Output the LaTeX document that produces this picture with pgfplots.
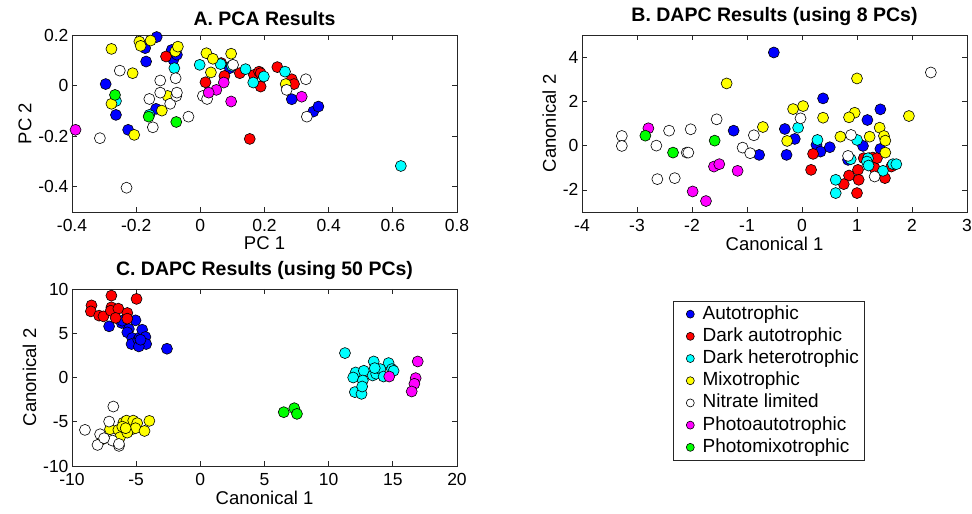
\documentclass[border=0pt]{standalone}
\usepackage{fontspec}
\setmainfont{Liberation Sans}
\usepackage{pgfplots}
\pgfplotsset{compat=1.18}

\definecolor{mgray}{rgb}{0.15,0.15,0.15}
\definecolor{cblue}{rgb}{0,0,1}
\definecolor{cred}{rgb}{1,0,0}
\definecolor{ccyan}{rgb}{0,1,1}
\definecolor{cyel}{rgb}{1,1,0}
\definecolor{cwhite}{rgb}{1,1,1}
\definecolor{cmag}{rgb}{1,0,1}
\definecolor{cgreen}{rgb}{0,1,0}
\pgfplotsset{
  dot/.style={only marks, mark=*, mark size=5.5pt,
    mark options={draw=black, line width=0.6pt, fill=#1}},
  panel/.style={scale only axis, width=385pt, height=177pt, anchor=south west,
    axis line style={mgray, line width=0.7pt},
    tick style={mgray, line width=0.7pt}, major tick length=5pt,
    tick align=inside,
    font=\fontsize{17.5}{21}\selectfont,
    title style={font=\bfseries\fontsize{19.5}{23}\selectfont},
    label style={font=\fontsize{18.5}{22}\selectfont},
    xticklabel style={yshift=-4pt},
    xlabel style={yshift=2pt},
    /pgf/number format/assume math mode=true,
    clip=false},
}

\begin{document}
\begin{tikzpicture}
\useasboundingbox (0,0) rectangle (972pt,514pt);

% A. PCA
\begin{axis}[panel, at={(72pt,302pt)},
  title={A. PCA Results}, xlabel={PC 1}, ylabel={PC 2},
  xmin=-0.4, xmax=0.8, ymin=-0.5, ymax=0.2,
  xtick={-0.4,-0.2,0,0.2,0.4,0.6,0.8}, ytick={-0.4,-0.2,0,0.2}]
\addplot[dot=cblue] coordinates {(-0.295,0.006) (-0.263,-0.116) (-0.225,-0.175) (-0.172,0.148) (-0.136,0.192) (-0.169,0.095) (-0.138,-0.092) (-0.084,0.102) (-0.089,0.141) (-0.073,0.122) (0.092,0.069) (0.285,-0.054) (0.352,-0.103) (0.368,-0.083)};
\addplot[dot=cred] coordinates {(-0.107,0.115) (0.065,0.089) (0.075,0.038) (0.016,0.013) (0.123,0.049) (0.167,0.042) (0.183,0.055) (0.188,0.049) (0.188,-0.004) (0.240,0.073) (0.285,0.025) (0.292,0.006) (0.154,-0.211)};
\addplot[dot=ccyan] coordinates {(-0.263,-0.061) (-0.159,-0.116) (-0.081,0.069) (-0.002,0.082) (0.063,0.085) (0.098,0.078) (0.141,0.065) (0.198,0.036) (0.165,0.012) (0.264,0.055) (0.625,-0.318)};
\addplot[dot=cyel] coordinates {(-0.277,0.145) (-0.277,-0.072) (-0.206,-0.195) (-0.211,0.049) (-0.190,0.174) (-0.186,0.157) (-0.155,0.178) (-0.120,-0.099) (-0.102,-0.041) (-0.078,0.135) (-0.070,0.154) (0.019,0.128) (0.039,0.106) (0.096,0.126) (0.033,0.052) (0.266,0.006)};
\addplot[dot=cwhite] coordinates {(-0.313,-0.208) (-0.251,0.059) (-0.230,-0.404) (-0.125,0.020) (-0.159,-0.053) (-0.125,-0.028) (-0.148,-0.165) (-0.094,-0.072) (-0.075,-0.041) (-0.073,-0.028) (-0.077,0.029) (-0.037,-0.123) (0.008,-0.041) (0.021,-0.053) (0.102,0.082) (0.269,-0.017) (0.329,0.025) (0.332,-0.123)};
\addplot[dot=cmag] coordinates {(-0.389,-0.175) (0.073,0.012) (0.050,-0.017) (0.026,-0.028) (0.096,-0.063) (0.316,-0.044)};
\addplot[dot=cgreen] coordinates {(-0.266,-0.037) (-0.161,-0.123) (-0.075,-0.144)};
\end{axis}

% B. DAPC 8 PCs
\begin{axis}[panel, at={(582pt,302pt)},
  title={B. DAPC Results (using 8 PCs)}, xlabel={Canonical 1}, ylabel={Canonical 2},
  xmin=-4, xmax=3, ymin=-3, ymax=5,
  xtick={-4,-3,-2,-1,0,1,2,3}, ytick={-2,0,2,4}]
\addplot[dot=cblue] coordinates {(-0.512,4.21) (0.383,2.135) (-0.312,0.752) (-0.131,0.302) (-0.281,-0.419) (1.425,1.64) (1.189,1.158) (1.109,-0.014) (1.425,-0.149) (0.263,0.032) (0.336,-0.270) (0.505,-0.072) (0.837,-0.644) (-1.243,0.676) (-0.779,-0.419)};
\addplot[dot=cred] coordinates {(0.201,-0.374) (0.165,-1.095) (1.122,-0.568) (1.230,-0.568) (1.29,-0.54) (1.363,-0.568) (0.855,-1.351) (1.018,-1.095) (1.031,-1.545) (0.759,-1.739) (1.0,-2.144) (1.321,-1.018) (1.508,-1.469) (1.624,-0.946)};
\addplot[dot=ccyan] coordinates {(-0.071,0.811) (1.0,0.257) (0.281,0.257) (0.886,-0.613) (1.2,-0.57) (1.18,-0.72) (1.21,-0.90) (0.613,-1.545) (0.613,-2.144) (1.472,-1.14) (1.653,-0.838) (1.715,-0.838)};
\addplot[dot=cyel] coordinates {(-1.370,2.811) (-0.711,0.842) (1.0,3.036) (-0.162,1.653) (0.020,1.788) (0.383,1.261) (-0.270,0.212) (0.958,1.486) (0.855,1.279) (1.944,1.338) (0.698,0.405) (1.230,0.405) (1.412,0.811) (1.490,0.437) (1.515,0.225) (1.515,-0.315)};
\addplot[dot=cwhite] coordinates {(-3.276,0.437) (-3.276,-0.014) (-2.648,0.0) (-2.417,0.676) (-2.630,-1.514) (-2.314,-1.469) (-2.024,0.739) (-2.096,-0.315) (-2.067,-0.315) (-1.552,1.189) (-1.080,-0.09) (-0.942,-0.342) (-0.875,0.468) (2.343,3.306) (-0.027,1.234) (0.891,0.482) (0.837,-0.464) (1.321,-1.396)};
\addplot[dot=cmag] coordinates {(-2.793,0.784) (-1.988,-2.072) (-1.746,-2.505) (-1.601,-0.946) (-1.504,-0.838) (-1.171,-1.140)};
\addplot[dot=cgreen] coordinates {(-2.848,0.450) (-2.345,-0.315) (-1.588,0.225)};
\end{axis}

% C. DAPC 50 PCs
\begin{axis}[panel, at={(72pt,48pt)},
  title={C. DAPC Results (using 50 PCs)}, xlabel={Canonical 1}, ylabel={Canonical 2},
  xmin=-10, xmax=20, ymin=-10, ymax=10,
  xtick={-10,-5,0,5,10,15,20}, ytick={-10,-5,0,5,10},
  legend image code/.code={\path (0pt,0pt) (24pt,0pt);
    \draw[#1, mark size=4pt] plot coordinates {(14pt,0pt)};},
  legend style={at={(axis description cs:1.560,0.934)}, anchor=north west,
    draw=mgray, line width=0.7pt, font=\fontsize{19}{22}\selectfont,
    nodes={text height=14pt, text depth=4.2pt, inner sep=2pt},
    legend cell align=left}]
\addplot[dot=cblue] coordinates {(-7.11,5.78) (-6.13,6.16) (-6.08,6.42) (-5.05,6.46) (-5.57,5.48) (-5.69,5.10) (-5.31,4.46) (-5.36,3.78) (-4.84,4.27) (-4.72,4.53) (-4.53,5.40) (-4.28,4.58) (-4.22,3.78) (-4.79,3.51) (-4.66,4.27) (-2.60,3.25)};
\addplot[dot=cred] coordinates {(-8.48,8.15) (-8.53,7.47) (-7.89,6.99) (-7.55,6.91) (-6.93,9.25) (-6.93,7.93) (-6.98,7.55) (-6.39,7.78) (-6.60,6.73) (-5.69,7.29) (-5.69,6.65) (-4.97,8.88)};
\addplot[dot=ccyan] coordinates {(11.27,2.76) (13.51,1.81) (14.67,1.63) (12.10,0.57) (12.74,0.76) (11.91,0.0) (12.66,-0.34) (12.04,-1.65) (12.56,-1.85) (13.43,0.23) (13.70,0.42) (14.03,0.95) (14.28,0.11) (14.93,0.95) (15.06,0.76) (13.59,1.06) (12.61,-1.02)};
\addplot[dot=cyel] coordinates {(-7.63,-6.98) (-7.04,-5.85) (-6.39,-5.92) (-6.26,-6.75) (-6.00,-5.10) (-5.75,-4.87) (-5.44,-5.92) (-5.23,-4.87) (-4.92,-5.16) (-5.05,-5.73) (-5.69,-6.23) (-4.35,-6.04) (-3.97,-4.90) (-6.08,-5.55) (-5.82,-5.73)};
\addplot[dot=cwhite] coordinates {(-8.99,-5.92) (-6.78,-3.28) (-7.11,-4.98) (-7.81,-6.41) (-8.01,-7.62) (-6.85,-7.13) (-6.34,-7.73) (-6.34,-7.51) (-7.50,-6.86)};
\addplot[dot=cmag] coordinates {(16.94,1.81) (16.78,-0.07) (16.68,-0.71) (16.47,-1.58) (14.72,0.11)};
\addplot[dot=cgreen] coordinates {(6.50,-3.92) (7.32,-3.47) (7.53,-4.11)};
\legend{Autotrophic, Dark autotrophic, Dark heterotrophic, Mixotrophic, Nitrate limited, Photoautotrophic, Photomixotrophic}
\end{axis}
\end{tikzpicture}
\end{document}
